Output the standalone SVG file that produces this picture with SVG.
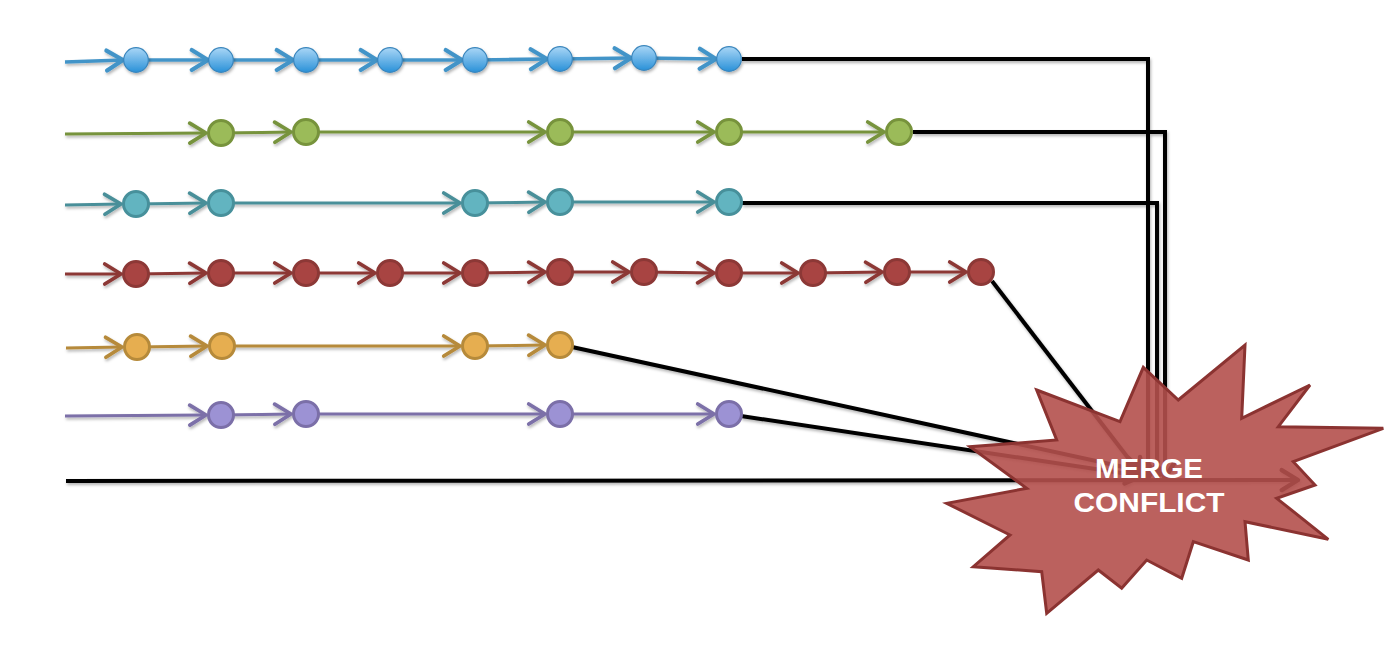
<svg xmlns="http://www.w3.org/2000/svg" width="1391" height="656" viewBox="0 0 1391 656">
<style>
.ln{fill:none;stroke-width:3;}
.bk{fill:none;stroke:#000;stroke-width:4;stroke-linejoin:miter;}
.blue{stroke:#4394c8;stroke-width:3.6;}
.green{stroke:#77933c;}
.teal{stroke:#4a8f99;}
.red{stroke:#8c3836;}
.orange{stroke:#b68a3a;}
.purple{stroke:#7b6fa8;}
.nb{fill:url(#gb);stroke:#3a86bd;stroke-width:1.2;}
.ng{fill:#9bbb59;stroke:#77933c;stroke-width:3;}
.nt{fill:#62b4c0;stroke:#47909b;stroke-width:3;}
.nr{fill:#a84442;stroke:#8c3836;stroke-width:3;}
.no{fill:#e6ae50;stroke:#b68a3a;stroke-width:3;}
.np{fill:#9c92d4;stroke:#7b6fa8;stroke-width:3;}
.lbl{font-family:"Liberation Sans",Arial,sans-serif;font-weight:bold;font-size:27px;fill:#fff;text-anchor:middle;}
</style>
<defs>
<linearGradient id="gb" x1="0" y1="0" x2="0" y2="1">
<stop offset="0" stop-color="#a9d6f6"/>
<stop offset="1" stop-color="#2a91d8"/>
</linearGradient>
<filter id="sh" x="-10%" y="-50%" width="120%" height="200%">
<feDropShadow dx="1" dy="2" stdDeviation="1.5" flood-color="#000" flood-opacity="0.3"/>
</filter>
<marker id="aBlue" markerUnits="userSpaceOnUse" markerWidth="30" markerHeight="30" refX="0" refY="0" viewBox="-16 -12 20 24" orient="auto" overflow="visible"><path d="M-13,-8 L0,0 L-13,8" fill="none" stroke="#4394c8" stroke-width="3.4" stroke-linecap="round" stroke-linejoin="round"/></marker>
<marker id="aGreen" markerUnits="userSpaceOnUse" markerWidth="30" markerHeight="30" refX="0" refY="0" viewBox="-16 -12 20 24" orient="auto" overflow="visible"><path d="M-13,-8 L0,0 L-13,8" fill="none" stroke="#77933c" stroke-width="3" stroke-linecap="round" stroke-linejoin="round"/></marker>
<marker id="aTeal" markerUnits="userSpaceOnUse" markerWidth="30" markerHeight="30" refX="0" refY="0" viewBox="-16 -12 20 24" orient="auto" overflow="visible"><path d="M-13,-8 L0,0 L-13,8" fill="none" stroke="#4a8f99" stroke-width="3" stroke-linecap="round" stroke-linejoin="round"/></marker>
<marker id="aRed" markerUnits="userSpaceOnUse" markerWidth="30" markerHeight="30" refX="0" refY="0" viewBox="-16 -12 20 24" orient="auto" overflow="visible"><path d="M-13,-8 L0,0 L-13,8" fill="none" stroke="#8c3836" stroke-width="3" stroke-linecap="round" stroke-linejoin="round"/></marker>
<marker id="aOrange" markerUnits="userSpaceOnUse" markerWidth="30" markerHeight="30" refX="0" refY="0" viewBox="-16 -12 20 24" orient="auto" overflow="visible"><path d="M-13,-8 L0,0 L-13,8" fill="none" stroke="#b68a3a" stroke-width="3" stroke-linecap="round" stroke-linejoin="round"/></marker>
<marker id="aPurple" markerUnits="userSpaceOnUse" markerWidth="30" markerHeight="30" refX="0" refY="0" viewBox="-16 -12 20 24" orient="auto" overflow="visible"><path d="M-13,-8 L0,0 L-13,8" fill="none" stroke="#7b6fa8" stroke-width="3" stroke-linecap="round" stroke-linejoin="round"/></marker>
<marker id="aBlack" markerUnits="userSpaceOnUse" markerWidth="30" markerHeight="30" refX="0" refY="0" viewBox="-16 -12 20 24" orient="auto" overflow="visible"><path d="M-13,-8 L0,0 L-13,8" fill="none" stroke="#000" stroke-width="3.5" stroke-linecap="round" stroke-linejoin="round"/></marker>
</defs>

<g id="connectors" filter="url(#sh)">
<g class="ln blue" marker-end="url(#aBlue)">
<path d="M65,62 L123,60"/><path d="M136,60 L208,60"/><path d="M221,60 L293,60"/><path d="M306,60 L377,60"/><path d="M390,60 L462,60"/><path d="M475,60 L547,59"/><path d="M560,59 L631,58"/><path d="M644,58 L716,59"/>
</g>
<g class="ln green" marker-end="url(#aGreen)">
<path d="M65,134 L206,133"/><path d="M221,133 L291,132"/><path d="M306,132 L545,132"/><path d="M560,132 L714,132"/><path d="M729,132 L884,132"/>
</g>
<g class="ln teal" marker-end="url(#aTeal)">
<path d="M65,205 L121,204"/><path d="M136,204 L206,203"/><path d="M221,203 L460,203"/><path d="M475,203 L545,202"/><path d="M560,202 L714,202"/>
</g>
<g class="ln red" marker-end="url(#aRed)">
<path d="M65,274 L121,274"/><path d="M136,274 L206,273"/><path d="M221,273 L291,273"/><path d="M306,273 L375,273"/><path d="M390,273 L460,273"/><path d="M475,273 L545,272"/><path d="M560,272 L629,272"/><path d="M644,272 L714,273"/><path d="M729,273 L798,273"/><path d="M813,273 L882,272"/><path d="M897,272 L966,272"/>
</g>
<g class="ln orange" marker-end="url(#aOrange)">
<path d="M66,348 L122,347"/><path d="M137,347 L207,346"/><path d="M222,346 L460,346"/><path d="M475,346 L545,345"/>
</g>
<g class="ln purple" marker-end="url(#aPurple)">
<path d="M65,416 L206,415"/><path d="M221,415 L291,414"/><path d="M306,414 L545,414"/><path d="M560,414 L714,414"/>
</g>
<g class="bk" marker-end="url(#aBlack)">
<path d="M742,59 H1148 V478"/>
<path d="M913,132 H1165 V478"/>
<path d="M742,203 H1157 V478"/>
<path d="M992,281 L1142,476"/>
<path d="M572,347 L1142,471"/>
<path d="M741,416 L1142,476"/>
<path d="M66,481 L1298,480"/>
</g>
</g>

<g id="nodes-blue" filter="url(#sh)">
<circle class="nb" cx="136" cy="60" r="12.3"/><circle class="nb" cx="221" cy="60" r="12.3"/><circle class="nb" cx="306" cy="60" r="12.3"/><circle class="nb" cx="390" cy="60" r="12.3"/><circle class="nb" cx="475" cy="60" r="12.3"/><circle class="nb" cx="560" cy="59" r="12.3"/><circle class="nb" cx="644" cy="58" r="12.3"/><circle class="nb" cx="729" cy="59" r="12.3"/>
</g>
<g id="nodes-green">
<circle class="ng" cx="221" cy="133" r="12.5"/><circle class="ng" cx="306" cy="132" r="12.5"/><circle class="ng" cx="560" cy="132" r="12.5"/><circle class="ng" cx="729" cy="132" r="12.5"/><circle class="ng" cx="899" cy="132" r="12.5"/>
</g>
<g id="nodes-teal">
<circle class="nt" cx="136" cy="204" r="12.5"/><circle class="nt" cx="221" cy="203" r="12.5"/><circle class="nt" cx="475" cy="203" r="12.5"/><circle class="nt" cx="560" cy="202" r="12.5"/><circle class="nt" cx="729" cy="202" r="12.5"/>
</g>
<g id="nodes-red">
<circle class="nr" cx="136" cy="274" r="12.5"/><circle class="nr" cx="221" cy="273" r="12.5"/><circle class="nr" cx="306" cy="273" r="12.5"/><circle class="nr" cx="390" cy="273" r="12.5"/><circle class="nr" cx="475" cy="273" r="12.5"/><circle class="nr" cx="560" cy="272" r="12.5"/><circle class="nr" cx="644" cy="272" r="12.5"/><circle class="nr" cx="729" cy="273" r="12.5"/><circle class="nr" cx="813" cy="273" r="12.5"/><circle class="nr" cx="897" cy="272" r="12.5"/><circle class="nr" cx="981" cy="272" r="12.5"/>
</g>
<g id="nodes-orange">
<circle class="no" cx="137" cy="347" r="12.5"/><circle class="no" cx="222" cy="346" r="12.5"/><circle class="no" cx="475" cy="346" r="12.5"/><circle class="no" cx="560" cy="345" r="12.5"/>
</g>
<g id="nodes-purple">
<circle class="np" cx="221" cy="415" r="12.5"/><circle class="np" cx="306" cy="414" r="12.5"/><circle class="np" cx="560" cy="414" r="12.5"/><circle class="np" cx="729" cy="414" r="12.5"/>
</g>

<g id="merge-conflict">
<polygon points="1036.7,390 1120,421.7 1143.3,367.3 1178.3,400 1245,345 1241.7,418.3 1310,385 1278.3,426.7 1383.3,428.3 1293.3,461.7 1315,485 1276.7,498.3 1328.3,539.3 1245,521.7 1248.3,560 1193.3,541.7 1181.7,578.3 1146.7,560 1121.7,588.3 1098.3,570 1046.7,613.3 1041.7,571.7 973.3,566.7 1010,535 946.7,503.3 1026.7,488.3 970,446.7 1056.7,440" fill="#b4504d" fill-opacity="0.9" stroke="#8b3331" stroke-width="3" stroke-linejoin="miter"/>
<text class="lbl" x="1149" y="478" textLength="108" lengthAdjust="spacingAndGlyphs">MERGE</text>
<text class="lbl" x="1149" y="512" textLength="151" lengthAdjust="spacingAndGlyphs">CONFLICT</text>
</g>
</svg>
